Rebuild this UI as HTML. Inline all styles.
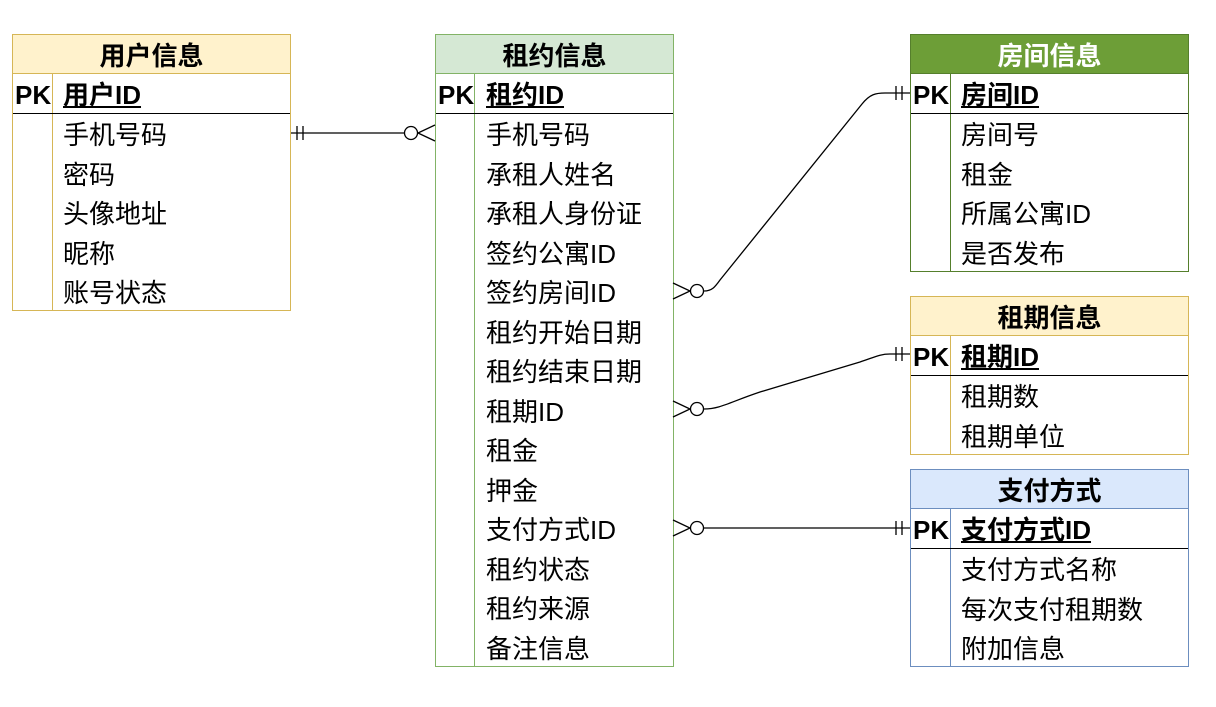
<!DOCTYPE html>
<html><head><meta charset="utf-8"><style>
body{margin:0;width:1216px;height:707px;background:#fff;position:relative;overflow:hidden;font-family:"Liberation Sans","Noto Sans CJK SC",sans-serif}
.t{position:absolute;box-sizing:border-box;border:1px solid}
.h{position:absolute;left:0;right:0;top:0;height:39px;box-sizing:border-box;border-bottom:1px solid;font-weight:bold;font-size:26px;text-align:center;line-height:42px}
.r{position:absolute;left:0;right:0;height:39.5px;font-size:26px;line-height:43px}
.r .k{position:absolute;left:2px;font-weight:bold}
.r .n{position:absolute;left:50px}
.pk{border-bottom:1.5px solid #000;box-sizing:border-box}
.pk .n{font-weight:bold;text-decoration:underline}
.v{position:absolute;top:39px;bottom:0;width:1px}
</style></head><body>

<div class="t" style="left:12px;top:34px;width:279px;height:277px;border-color:#d6b656">
<div class="h" style="background:#fff2cc;border-color:#d6b656">用户信息</div>
<div class="v" style="left:39px;background:#d6b656"></div>
<div class="r pk" style="top:39px;height:40px"><span class="k">PK</span><span class="n">用户ID</span></div>
<div class="r" style="top:79px"><span class="n">手机号码</span></div>
<div class="r" style="top:119px"><span class="n">密码</span></div>
<div class="r" style="top:158px"><span class="n">头像地址</span></div>
<div class="r" style="top:198px"><span class="n">昵称</span></div>
<div class="r" style="top:237px"><span class="n">账号状态</span></div>
</div>

<div class="t" style="left:435px;top:34px;width:239px;height:633px;border-color:#82b366">
<div class="h" style="background:#d5e8d4;border-color:#82b366">租约信息</div>
<div class="v" style="left:38px;background:#82b366"></div>
<div class="r pk" style="top:39px;height:40px"><span class="k">PK</span><span class="n">租约ID</span></div>
<div class="r" style="top:79px"><span class="n">手机号码</span></div>
<div class="r" style="top:119px"><span class="n">承租人姓名</span></div>
<div class="r" style="top:158px"><span class="n">承租人身份证</span></div>
<div class="r" style="top:198px"><span class="n">签约公寓ID</span></div>
<div class="r" style="top:237px"><span class="n">签约房间ID</span></div>
<div class="r" style="top:277px"><span class="n">租约开始日期</span></div>
<div class="r" style="top:316px"><span class="n">租约结束日期</span></div>
<div class="r" style="top:356px"><span class="n">租期ID</span></div>
<div class="r" style="top:395px"><span class="n">租金</span></div>
<div class="r" style="top:435px"><span class="n">押金</span></div>
<div class="r" style="top:474px"><span class="n">支付方式ID</span></div>
<div class="r" style="top:514px"><span class="n">租约状态</span></div>
<div class="r" style="top:553px"><span class="n">租约来源</span></div>
<div class="r" style="top:593px"><span class="n">备注信息</span></div>
</div>

<div class="t" style="left:910px;top:34px;width:279px;height:238px;border-color:#557f2c">
<div class="h" style="background:#6d9e37;color:#fff;border-color:#557f2c">房间信息</div>
<div class="v" style="left:39px;background:#557f2c"></div>
<div class="r pk" style="top:39px;height:40px"><span class="k">PK</span><span class="n">房间ID</span></div>
<div class="r" style="top:79px"><span class="n">房间号</span></div>
<div class="r" style="top:119px"><span class="n">租金</span></div>
<div class="r" style="top:158px"><span class="n">所属公寓ID</span></div>
<div class="r" style="top:198px"><span class="n">是否发布</span></div>
</div>

<div class="t" style="left:910px;top:296px;width:279px;height:159px;border-color:#d6b656">
<div class="h" style="background:#fff2cc;border-color:#d6b656">租期信息</div>
<div class="v" style="left:39px;background:#d6b656"></div>
<div class="r pk" style="top:39px;height:40px"><span class="k">PK</span><span class="n">租期ID</span></div>
<div class="r" style="top:79px"><span class="n">租期数</span></div>
<div class="r" style="top:119px"><span class="n">租期单位</span></div>
</div>

<div class="t" style="left:910px;top:469px;width:279px;height:198px;border-color:#6c8ebf">
<div class="h" style="background:#dae8fc;border-color:#6c8ebf">支付方式</div>
<div class="v" style="left:39px;background:#6c8ebf"></div>
<div class="r pk" style="top:39px;height:40px"><span class="k">PK</span><span class="n">支付方式ID</span></div>
<div class="r" style="top:79px"><span class="n">支付方式名称</span></div>
<div class="r" style="top:119px"><span class="n">每次支付租期数</span></div>
<div class="r" style="top:158px"><span class="n">附加信息</span></div>
</div>

<svg width="1216" height="707" style="position:absolute;left:0;top:0" fill="none" stroke="#000" stroke-width="1.3">
<path d="M291 133H404M297 126v14M303 126v14M418 133L435 125M418 133L435 141"/>
<circle cx="411" cy="133" r="6.5" fill="#fff"/>
<path d="M704 291C712 291 715 287 720 280L862 104C870 94 876 93 885 93H910M896 86v14M902 86v14M673 283L690 291L673 299"/>
<circle cx="697" cy="291" r="6.5" fill="#fff"/>
<path d="M704 409C720 409 730 402 760 392L860 362C875 357 880 354 890 354H910M896 347v14M902 347v14M673 401L690 409L673 417"/>
<circle cx="697" cy="409" r="6.5" fill="#fff"/>
<path d="M704 528H910M896 521v14M902 521v14M673 520L690 528L673 536"/>
<circle cx="697" cy="528" r="6.5" fill="#fff"/>
</svg>
</body></html>
